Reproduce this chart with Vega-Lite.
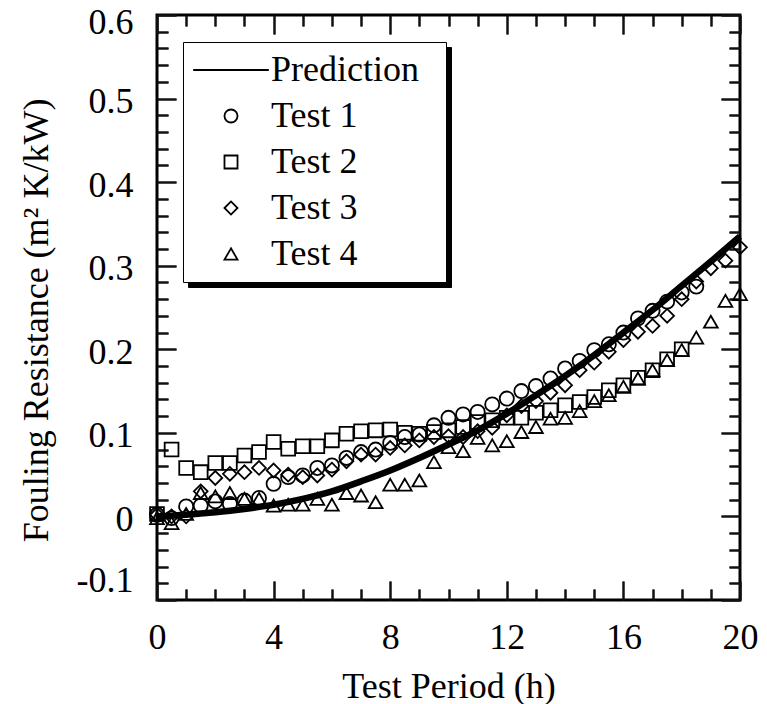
{
  "$schema": "https://vega.github.io/schema/vega-lite/v6.json",
  "width": 583,
  "height": 585,
  "autosize": {"type": "none"},
  "padding": {"left": 157, "top": 15, "right": 27, "bottom": 104},
  "background": "white",
  "config": {
    "font": "Liberation Serif",
    "view": {"stroke": "black", "strokeWidth": 3},
    "axis": {"domain": false, "ticks": true, "tickColor": "#111111", "tickOpacity": 1, "tickWidth": 2, "tickCap": "butt", "gridColor": "#111111", "gridOpacity": 1, "gridWidth": 2, "gridCap": "butt", "labelColor": "black", "titleColor": "black", "labelFont": "Liberation Serif", "titleFont": "Liberation Serif", "labelFontSize": 36, "titleFontSize": 36, "titleFontWeight": "normal", "labelFlush": false, "labelOverlap": false, "zindex": 3}
  },
  "data": {
    "values": [
      {"series": "Test 1", "t": 0, "r": 0.002}, {"series": "Test 1", "t": 0.5, "r": -0.002}, {"series": "Test 1", "t": 1, "r": 0.012}, {"series": "Test 1", "t": 1.5, "r": 0.013}, {"series": "Test 1", "t": 2, "r": 0.018}, {"series": "Test 1", "t": 2.5, "r": 0.015}, {"series": "Test 1", "t": 3, "r": 0.019}, {"series": "Test 1", "t": 3.5, "r": 0.022}, {"series": "Test 1", "t": 4, "r": 0.039}, {"series": "Test 1", "t": 4.5, "r": 0.047}, {"series": "Test 1", "t": 5, "r": 0.049}, {"series": "Test 1", "t": 5.5, "r": 0.058}, {"series": "Test 1", "t": 6, "r": 0.061}, {"series": "Test 1", "t": 6.5, "r": 0.07}, {"series": "Test 1", "t": 7, "r": 0.077}, {"series": "Test 1", "t": 7.5, "r": 0.08}, {"series": "Test 1", "t": 8, "r": 0.088}, {"series": "Test 1", "t": 8.5, "r": 0.095}, {"series": "Test 1", "t": 9, "r": 0.098}, {"series": "Test 1", "t": 9.5, "r": 0.109}, {"series": "Test 1", "t": 10, "r": 0.118}, {"series": "Test 1", "t": 10.5, "r": 0.122}, {"series": "Test 1", "t": 11, "r": 0.125}, {"series": "Test 1", "t": 11.5, "r": 0.134}, {"series": "Test 1", "t": 12, "r": 0.141}, {"series": "Test 1", "t": 12.5, "r": 0.15}, {"series": "Test 1", "t": 13, "r": 0.156}, {"series": "Test 1", "t": 13.5, "r": 0.165}, {"series": "Test 1", "t": 14, "r": 0.177}, {"series": "Test 1", "t": 14.5, "r": 0.186}, {"series": "Test 1", "t": 15, "r": 0.199}, {"series": "Test 1", "t": 15.5, "r": 0.206}, {"series": "Test 1", "t": 16, "r": 0.22}, {"series": "Test 1", "t": 16.5, "r": 0.237}, {"series": "Test 1", "t": 17, "r": 0.246}, {"series": "Test 1", "t": 17.5, "r": 0.257}, {"series": "Test 1", "t": 18, "r": 0.268}, {"series": "Test 1", "t": 18.5, "r": 0.275},
      {"series": "Test 2", "t": 0, "r": 0.003}, {"series": "Test 2", "t": 0.5, "r": 0.08}, {"series": "Test 2", "t": 1, "r": 0.058}, {"series": "Test 2", "t": 1.5, "r": 0.053}, {"series": "Test 2", "t": 2, "r": 0.064}, {"series": "Test 2", "t": 2.5, "r": 0.064}, {"series": "Test 2", "t": 3, "r": 0.073}, {"series": "Test 2", "t": 3.5, "r": 0.077}, {"series": "Test 2", "t": 4, "r": 0.089}, {"series": "Test 2", "t": 4.5, "r": 0.081}, {"series": "Test 2", "t": 5, "r": 0.084}, {"series": "Test 2", "t": 5.5, "r": 0.084}, {"series": "Test 2", "t": 6, "r": 0.091}, {"series": "Test 2", "t": 6.5, "r": 0.099}, {"series": "Test 2", "t": 7, "r": 0.102}, {"series": "Test 2", "t": 7.5, "r": 0.103}, {"series": "Test 2", "t": 8, "r": 0.104}, {"series": "Test 2", "t": 8.5, "r": 0.1}, {"series": "Test 2", "t": 9, "r": 0.099}, {"series": "Test 2", "t": 9.5, "r": 0.101}, {"series": "Test 2", "t": 10, "r": 0.103}, {"series": "Test 2", "t": 10.5, "r": 0.107}, {"series": "Test 2", "t": 11, "r": 0.113}, {"series": "Test 2", "t": 11.5, "r": 0.115}, {"series": "Test 2", "t": 12, "r": 0.118}, {"series": "Test 2", "t": 12.5, "r": 0.118}, {"series": "Test 2", "t": 13, "r": 0.124}, {"series": "Test 2", "t": 13.5, "r": 0.127}, {"series": "Test 2", "t": 14, "r": 0.133}, {"series": "Test 2", "t": 14.5, "r": 0.137}, {"series": "Test 2", "t": 15, "r": 0.143}, {"series": "Test 2", "t": 15.5, "r": 0.151}, {"series": "Test 2", "t": 16, "r": 0.157}, {"series": "Test 2", "t": 16.5, "r": 0.166}, {"series": "Test 2", "t": 17, "r": 0.175}, {"series": "Test 2", "t": 17.5, "r": 0.188}, {"series": "Test 2", "t": 18, "r": 0.2},
      {"series": "Test 3", "t": 0, "r": 0.002}, {"series": "Test 3", "t": 0.5, "r": 0.0}, {"series": "Test 3", "t": 1, "r": 0.0}, {"series": "Test 3", "t": 1.5, "r": 0.03}, {"series": "Test 3", "t": 2, "r": 0.046}, {"series": "Test 3", "t": 2.5, "r": 0.051}, {"series": "Test 3", "t": 3, "r": 0.053}, {"series": "Test 3", "t": 3.5, "r": 0.058}, {"series": "Test 3", "t": 4, "r": 0.055}, {"series": "Test 3", "t": 4.5, "r": 0.05}, {"series": "Test 3", "t": 5, "r": 0.047}, {"series": "Test 3", "t": 5.5, "r": 0.049}, {"series": "Test 3", "t": 6, "r": 0.056}, {"series": "Test 3", "t": 6.5, "r": 0.066}, {"series": "Test 3", "t": 7, "r": 0.074}, {"series": "Test 3", "t": 7.5, "r": 0.074}, {"series": "Test 3", "t": 8, "r": 0.082}, {"series": "Test 3", "t": 8.5, "r": 0.085}, {"series": "Test 3", "t": 9, "r": 0.091}, {"series": "Test 3", "t": 9.5, "r": 0.095}, {"series": "Test 3", "t": 10, "r": 0.096}, {"series": "Test 3", "t": 10.5, "r": 0.095}, {"series": "Test 3", "t": 11, "r": 0.102}, {"series": "Test 3", "t": 11.5, "r": 0.106}, {"series": "Test 3", "t": 12, "r": 0.121}, {"series": "Test 3", "t": 12.5, "r": 0.132}, {"series": "Test 3", "t": 13, "r": 0.138}, {"series": "Test 3", "t": 13.5, "r": 0.148}, {"series": "Test 3", "t": 14, "r": 0.157}, {"series": "Test 3", "t": 14.5, "r": 0.175}, {"series": "Test 3", "t": 15, "r": 0.184}, {"series": "Test 3", "t": 15.5, "r": 0.197}, {"series": "Test 3", "t": 16, "r": 0.211}, {"series": "Test 3", "t": 16.5, "r": 0.221}, {"series": "Test 3", "t": 17, "r": 0.228}, {"series": "Test 3", "t": 17.5, "r": 0.24}, {"series": "Test 3", "t": 18, "r": 0.26}, {"series": "Test 3", "t": 18.5, "r": 0.281}, {"series": "Test 3", "t": 19, "r": 0.297}, {"series": "Test 3", "t": 19.5, "r": 0.306}, {"series": "Test 3", "t": 20, "r": 0.322},
      {"series": "Test 4", "t": 0, "r": -0.002}, {"series": "Test 4", "t": 0.5, "r": -0.008}, {"series": "Test 4", "t": 1, "r": 0.003}, {"series": "Test 4", "t": 1.5, "r": 0.028}, {"series": "Test 4", "t": 2, "r": 0.024}, {"series": "Test 4", "t": 2.5, "r": 0.028}, {"series": "Test 4", "t": 3, "r": 0.021}, {"series": "Test 4", "t": 3.5, "r": 0.021}, {"series": "Test 4", "t": 4, "r": 0.013}, {"series": "Test 4", "t": 4.5, "r": 0.014}, {"series": "Test 4", "t": 5, "r": 0.014}, {"series": "Test 4", "t": 5.5, "r": 0.021}, {"series": "Test 4", "t": 6, "r": 0.014}, {"series": "Test 4", "t": 6.5, "r": 0.028}, {"series": "Test 4", "t": 7, "r": 0.025}, {"series": "Test 4", "t": 7.5, "r": 0.017}, {"series": "Test 4", "t": 8, "r": 0.038}, {"series": "Test 4", "t": 8.5, "r": 0.038}, {"series": "Test 4", "t": 9, "r": 0.043}, {"series": "Test 4", "t": 9.5, "r": 0.065}, {"series": "Test 4", "t": 10, "r": 0.083}, {"series": "Test 4", "t": 10.5, "r": 0.078}, {"series": "Test 4", "t": 11, "r": 0.094}, {"series": "Test 4", "t": 11.5, "r": 0.085}, {"series": "Test 4", "t": 12, "r": 0.09}, {"series": "Test 4", "t": 12.5, "r": 0.101}, {"series": "Test 4", "t": 13, "r": 0.107}, {"series": "Test 4", "t": 13.5, "r": 0.117}, {"series": "Test 4", "t": 14, "r": 0.118}, {"series": "Test 4", "t": 14.5, "r": 0.126}, {"series": "Test 4", "t": 15, "r": 0.138}, {"series": "Test 4", "t": 15.5, "r": 0.145}, {"series": "Test 4", "t": 16, "r": 0.155}, {"series": "Test 4", "t": 16.5, "r": 0.165}, {"series": "Test 4", "t": 17, "r": 0.175}, {"series": "Test 4", "t": 17.5, "r": 0.187}, {"series": "Test 4", "t": 18, "r": 0.199}, {"series": "Test 4", "t": 18.5, "r": 0.214}, {"series": "Test 4", "t": 19, "r": 0.233}, {"series": "Test 4", "t": 19.5, "r": 0.258}, {"series": "Test 4", "t": 20, "r": 0.266},
      {"series": "Prediction", "t": 0, "r": 0.0}, {"series": "Prediction", "t": 1, "r": 0.002}, {"series": "Prediction", "t": 2, "r": 0.005}, {"series": "Prediction", "t": 3, "r": 0.009}, {"series": "Prediction", "t": 4, "r": 0.014}, {"series": "Prediction", "t": 5, "r": 0.021}, {"series": "Prediction", "t": 6, "r": 0.03}, {"series": "Prediction", "t": 7, "r": 0.042}, {"series": "Prediction", "t": 8, "r": 0.055}, {"series": "Prediction", "t": 9, "r": 0.07}, {"series": "Prediction", "t": 10, "r": 0.086}, {"series": "Prediction", "t": 11, "r": 0.103}, {"series": "Prediction", "t": 12, "r": 0.123}, {"series": "Prediction", "t": 13, "r": 0.145}, {"series": "Prediction", "t": 14, "r": 0.168}, {"series": "Prediction", "t": 15, "r": 0.193}, {"series": "Prediction", "t": 16, "r": 0.22}, {"series": "Prediction", "t": 17, "r": 0.247}, {"series": "Prediction", "t": 18, "r": 0.276}, {"series": "Prediction", "t": 19, "r": 0.305}, {"series": "Prediction", "t": 20, "r": 0.335}
    ]
  },
  "resolve": {"axis": {"x": "independent", "y": "independent"}},
  "layer": [
    {
      "transform": [{"filter": "datum.series === 'Test 1'"}],
      "mark": {"type": "point", "filled": false, "color": "black", "strokeWidth": 1.8, "size": 200, "opacity": 1},
      "encoding": {
        "x": {"field": "t", "type": "quantitative", "scale": {"domain": [0, 20], "nice": false, "zero": false},
          "axis": {"orient": "bottom", "values": [0, 4, 8, 12, 16, 20], "offset": -19, "tickSize": 19, "grid": true, "gridDash": [19, 3000], "labelPadding": 20, "labelBaseline": "top", "title": "Test Period (h)", "titleY": 116, "titleBaseline": "alphabetic"}},
        "y": {"field": "r", "type": "quantitative", "scale": {"domain": [-0.1, 0.6], "nice": false, "zero": false},
          "axis": {"orient": "left", "values": [-0.1, 0, 0.1, 0.2, 0.3, 0.4, 0.5, 0.6], "offset": -19, "tickSize": 19, "grid": true, "gridDash": [19, 3000], "labelPadding": 24, "labelBaseline": "middle", "labelOffset": {"condition": [{"test": "datum.value < 0", "value": -20}, {"test": "datum.value > 0.55", "value": 7}], "value": 3}, "labelExpr": "datum.value == 0 ? '0' : replace(format(datum.value, '.1f'), '\u2212', '-')", "title": "Fouling Resistance (m\u00b2 K/kW)", "titleX": -129, "titleY": 305, "titleBaseline": "alphabetic"}},
        "shape": {"field": "series", "type": "nominal",
          "scale": {"domain": ["Prediction", "Test 1", "Test 2", "Test 3", "Test 4"], "range": ["M-5.8,0H5.8M30.8,0", "circle", "square", "diamond", "triangle-up"]},
          "legend": {"orient": "none", "legendX": 26, "legendY": 27, "zindex": 4, "title": null, "fillColor": "white", "strokeColor": "black", "padding": 10, "symbolSize": 170, "symbolStrokeColor": "black", "symbolFillColor": "transparent", "symbolStrokeWidth": 1.8, "symbolOffset": 20, "labelOffset": 22, "labelFont": "Liberation Serif", "labelFontSize": 36, "labelColor": "black", "labelLimit": 400, "rowPadding": 10,
            "encode": {"legend": {"update": {"strokeWidth": {"value": 3}}}, "symbols": {"update": {"strokeWidth": {"signal": "datum.value === 'Prediction' ? 6 : 1.8"}}}}}}
      }
    },
    {
      "transform": [{"filter": "datum.series === 'Test 2'"}],
      "mark": {"type": "point", "filled": false, "color": "black", "strokeWidth": 1.8, "size": 190, "opacity": 1},
      "encoding": {
        "x": {"field": "t", "type": "quantitative", "scale": {"domain": [0, 20], "nice": false, "zero": false},
          "axis": {"orient": "bottom", "values": [1, 2, 3, 5, 6, 7, 9, 10, 11, 13, 14, 15, 17, 18, 19], "offset": -11, "tickSize": 11, "grid": true, "gridDash": [11, 3000], "labels": false, "title": null}},
        "y": {"field": "r", "type": "quantitative", "scale": {"domain": [-0.1, 0.6], "nice": false, "zero": false},
          "axis": {"orient": "left", "values": [-0.08, -0.06, -0.04, -0.02, 0.02, 0.04, 0.06, 0.08, 0.12, 0.14, 0.16, 0.18, 0.22, 0.24, 0.26, 0.28, 0.32, 0.34, 0.36, 0.38, 0.42, 0.44, 0.46, 0.48, 0.52, 0.54, 0.56, 0.58], "offset": -11, "tickSize": 11, "grid": true, "gridDash": [11, 3000], "labels": false, "title": null}},
        "shape": {"field": "series", "type": "nominal"}
      }
    },
    {
      "transform": [{"filter": "datum.series === 'Test 3'"}],
      "mark": {"type": "point", "filled": false, "color": "black", "strokeWidth": 1.8, "size": 190, "opacity": 1},
      "encoding": {
        "x": {"field": "t", "type": "quantitative", "scale": {"domain": [0, 20], "nice": false, "zero": false},
          "axis": {"orient": "top", "values": [0, 4, 8, 12, 16, 20], "offset": -19, "tickSize": 19, "grid": true, "gridDash": [19, 3000], "labels": false, "title": null}},
        "y": {"field": "r", "type": "quantitative", "scale": {"domain": [-0.1, 0.6], "nice": false, "zero": false},
          "axis": {"orient": "right", "values": [-0.1, 0, 0.1, 0.2, 0.3, 0.4, 0.5, 0.6], "offset": -19, "tickSize": 19, "grid": true, "gridDash": [19, 3000], "labels": false, "title": null}},
        "shape": {"field": "series", "type": "nominal"}
      }
    },
    {
      "transform": [{"filter": "datum.series === 'Test 4'"}],
      "mark": {"type": "point", "filled": false, "color": "black", "strokeWidth": 1.8, "size": 190, "opacity": 1},
      "encoding": {
        "x": {"field": "t", "type": "quantitative", "scale": {"domain": [0, 20], "nice": false, "zero": false},
          "axis": {"orient": "top", "values": [1, 2, 3, 5, 6, 7, 9, 10, 11, 13, 14, 15, 17, 18, 19], "offset": -11, "tickSize": 11, "grid": true, "gridDash": [11, 3000], "labels": false, "title": null}},
        "y": {"field": "r", "type": "quantitative", "scale": {"domain": [-0.1, 0.6], "nice": false, "zero": false},
          "axis": {"orient": "right", "values": [-0.08, -0.06, -0.04, -0.02, 0.02, 0.04, 0.06, 0.08, 0.12, 0.14, 0.16, 0.18, 0.22, 0.24, 0.26, 0.28, 0.32, 0.34, 0.36, 0.38, 0.42, 0.44, 0.46, 0.48, 0.52, 0.54, 0.56, 0.58], "offset": -11, "tickSize": 11, "grid": true, "gridDash": [11, 3000], "labels": false, "title": null}},
        "shape": {"field": "series", "type": "nominal"}
      }
    },
    {
      "transform": [{"filter": "datum.series === 'Prediction'"}],
      "mark": {"type": "line", "color": "black", "strokeWidth": 6.5, "interpolate": "monotone"},
      "encoding": {
        "x": {"field": "t", "type": "quantitative", "scale": {"domain": [0, 20], "nice": false, "zero": false}, "axis": null},
        "y": {"field": "r", "type": "quantitative", "scale": {"domain": [-0.1, 0.6], "nice": false, "zero": false}, "axis": null},
        "stroke": {"field": "series", "type": "nominal",
          "scale": {"domain": ["Test 1", "Test 2", "Test 3", "Test 4", "Prediction"], "range": ["black", "black", "black", "black", "black"]},
          "legend": {"orient": "none", "legendX": 31, "legendY": 32, "zindex": 0, "title": null, "fillColor": "black", "strokeColor": "black", "padding": 10, "symbolType": "M-5.8,0H5.8M30.8,0", "symbolSize": 170, "symbolStrokeColor": "black", "symbolFillColor": "transparent", "symbolStrokeWidth": 1.8, "symbolOffset": 20, "labelOffset": 22, "labelFont": "Liberation Serif", "labelFontSize": 36, "labelColor": "black", "labelOpacity": 0, "labelLimit": 400, "rowPadding": 10}}
      }
    }
  ]
}
